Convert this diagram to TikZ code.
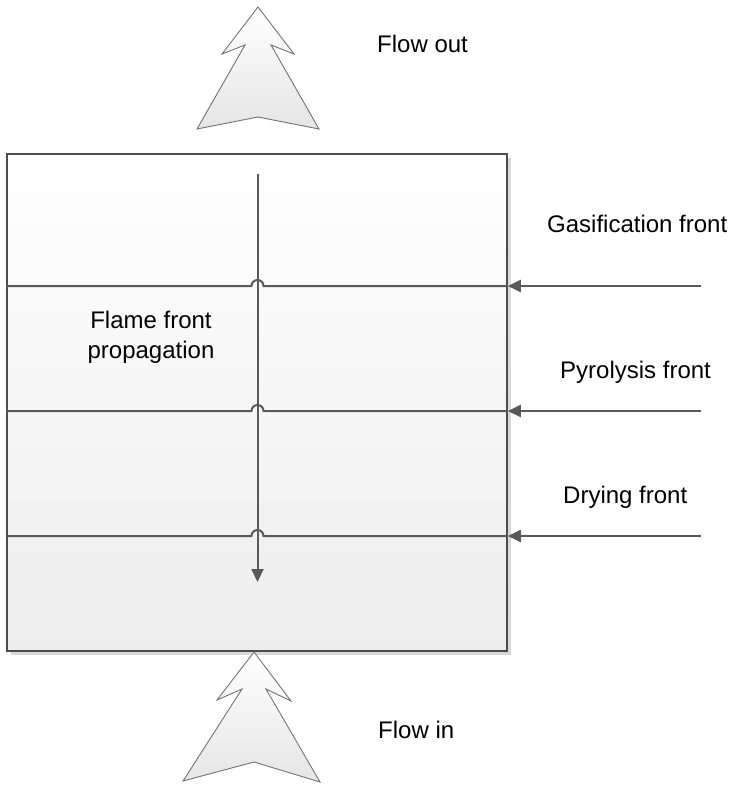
\documentclass[tikz,border=0pt]{standalone}
\usepackage{fontspec}
\setmainfont{Liberation Sans}
\usetikzlibrary{arrows.meta,calc}

\tikzset{
  reactor/.style={draw=black!70, line width=1.6pt, top color=white, bottom color=black!7, minimum width=500pt, minimum height=497pt, inner sep=0pt},
  flowarrow/.style={draw=black!55, line width=0.9pt, top color=white, bottom color=black!10},
  frontline/.style={draw=black!65, line width=2pt},
  pointer/.style={frontline, -{Triangle[length=13pt,width=12pt]}},
  label/.style={anchor=base west, inner sep=0pt, font=\fontsize{24}{30}\selectfont}
}

\begin{document}
\begin{tikzpicture}[x=1pt,y=-1pt]
\useasboundingbox (0,0) rectangle (738,785);

% Reactor bed with shadow
\fill[black!15] (10.5,157.5) rectangle (510.5,654.5);
\node[reactor] (reactor) at (257,402.5) {};

% Flow arrows
\draw[flowarrow] (258,7) -- (222,54) -- (245,45) -- (197,129) -- (258,117) -- (319,129) -- (271,45) -- (294,54) -- cycle;
\draw[flowarrow] (254,652) -- (217,700) -- (242,689) -- (183,781) -- (254,762) -- (320,782) -- (266,689) -- (291,701) -- cycle;

% Flame front propagation
\coordinate (flametop) at (257.5,174);
\coordinate (flameend) at (257.5,582);
\draw[pointer] (flametop) -- (flameend);

% Fronts, hopping over the propagation line
\foreach \name/\y in {gas/286, pyro/411, dry/536} {
  \coordinate (\name in) at (reactor.west |- 0,\y);
  \coordinate (\name out) at (reactor.east |- 0,\y);
  \coordinate (\name src) at (701,\y);
  \draw[frontline] (\name in) -- (251.5,\y) arc (180:360:6) -- (\name out);
  \draw[pointer] (\name src) -- (\name out);
}

% Labels
\node[label] (flowout) at (377,52) {Flow out};
\node[label] (flowin) at (378,738) {Flow in};
\node[label] (gaslabel) at (547,232) {Gasification front};
\node[label] (pyrolabel) at (560,378) {Pyrolysis front};
\node[label] (drylabel) at (563,503) {Drying front};
\node[label, anchor=base, align=center] (flamelabel) at (151,358) {Flame front\\propagation};
\end{tikzpicture}
\end{document}
